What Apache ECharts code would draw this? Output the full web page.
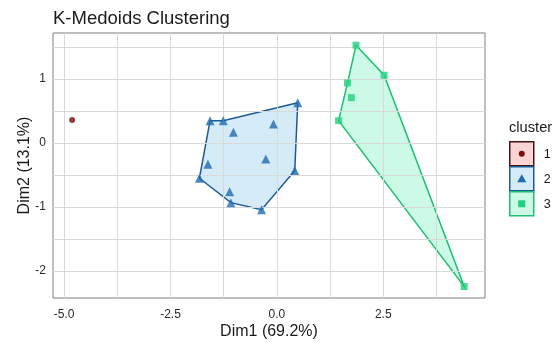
<!DOCTYPE html>
<html><head><meta charset="utf-8">
<script src="https://cdn.jsdelivr.net/npm/echarts@6/dist/echarts.min.js"></script>
<style>html,body{margin:0;padding:0;background:#fff}#c{width:560px;height:342px}</style>
</head><body><div id="c"></div>
<script>
const clusterNames = ['1', '2', '3'];
const c1x = [-4.81];
const c1y = [0.36];
const c2x = [-1.57, -1.26, 0.49, -1.02, -0.08, -1.62, -0.26, -1.82, 0.42, -1.11, -1.08, -0.36];
const c2y = [0.35, 0.35, 0.63, 0.17, 0.30, -0.33, -0.25, -0.55, -0.43, -0.76, -0.93, -1.04];
const c3x = [1.86, 2.52, 1.66, 1.75, 1.45, 4.40];
const c3y = [1.53, 1.06, 0.94, 0.71, 0.35, -2.24];
const c2Hull = [0, 1, 2, 8, 11, 10, 7];
const c3Hull = [0, 1, 5, 4, 2];
const xMajor = [-5, -2.5, 0, 2.5];
const xMinor = [-3.75, -1.25, 1.25, 3.75];
const yMajor = [-2, -1, 0, 1];
const yMinor = [-1.5, -0.5, 0.5, 1.5];

const FONT = 'Liberation Sans, Arial, sans-serif';
const colors = ['#7a0c0c', '#1f6cae', '#1fd17c'];
const lineColors = ['#4a1414', '#1b5a98', '#1cc06f'];
const fills = ['rgba(240,160,160,0.45)', 'rgba(150,205,238,0.40)', 'rgba(100,240,180,0.32)'];

const pts = (xs, ys) => xs.map((x, i) => [x, ys[i]]);
const P1 = pts(c1x, c1y), P2 = pts(c2x, c2y), P3 = pts(c3x, c3y);

function hullSeries(P, idx, k) {
  return {
    type: 'custom', z: 2, silent: true, clip: true,
    data: [0],
    renderItem: (params, api) => ({
      type: 'polygon',
      shape: { points: idx.map(i => api.coord(P[i])) },
      style: { fill: fills[k], stroke: lineColors[k], lineWidth: 1.5 }
    })
  };
}

const gridLines = [];
xMajor.concat(xMinor).forEach(v => gridLines.push({ xAxis: v }));
yMajor.concat(yMinor).forEach(v => gridLines.push({ yAxis: v }));

const chart = echarts.init(document.getElementById('c'), null, { renderer: 'canvas' });
chart.setOption({
  animation: false,
  backgroundColor: '#fff',
  textStyle: { fontFamily: FONT },
  title: {
    text: 'K-Medoids Clustering', left: 48, top: 4,
    textStyle: { fontFamily: FONT, fontSize: 18.5, fontWeight: 'normal', color: '#1a1a1a' }
  },
  grid: { left: 53, top: 33, right: 75, bottom: 44, containLabel: false, outerBoundsMode: 'none', show: true, borderColor: '#7f7f7f', borderWidth: 1, backgroundColor: 'transparent' },
  xAxis: {
    type: 'value', min: -5.26, max: 4.89,
    name: 'Dim1 (69.2%)', nameLocation: 'middle', nameGap: 26, nameMoveOverlap: false,
    nameTextStyle: { fontFamily: FONT, fontSize: 16, color: '#1a1a1a' },
    axisLine: { show: false },
    axisTick: { show: true, customValues: xMajor, length: 4, lineStyle: { color: '#555' } },
    axisLabel: { customValues: xMajor, formatter: v => v.toFixed(1), fontFamily: FONT, fontSize: 12, color: '#2a2a2a', margin: 11 },
    splitLine: { show: false }
  },
  yAxis: {
    type: 'value', min: -2.42, max: 1.72,
    name: 'Dim2 (13.1%)', nameLocation: 'middle', nameGap: 20, nameMoveOverlap: false,
    nameTextStyle: { fontFamily: FONT, fontSize: 16, color: '#1a1a1a' },
    axisLine: { show: false },
    axisTick: { show: true, customValues: yMajor, length: 4, lineStyle: { color: '#555' } },
    axisLabel: { customValues: yMajor, formatter: v => String(v), fontFamily: FONT, fontSize: 12, color: '#2a2a2a', margin: 7 },
    splitLine: { show: false }
  },
  series: [
    {
      type: 'scatter', data: [], z: 0, silent: true,
      markLine: {
        silent: true, symbol: 'none', label: { show: false },
        lineStyle: { color: '#d9d9d9', width: 1, type: 'solid' },
        data: gridLines
      }
    },
    hullSeries(P2, c2Hull, 1),
    hullSeries(P3, c3Hull, 2),
    { name: clusterNames[0], type: 'scatter', z: 5, symbol: 'circle', symbolSize: 6, itemStyle: { color: colors[0] }, data: P1 },
    { name: clusterNames[1], type: 'scatter', z: 5, symbol: 'triangle', symbolSize: 9, itemStyle: { color: colors[1] }, data: P2 },
    { name: clusterNames[2], type: 'scatter', z: 5, symbol: 'rect', symbolSize: 7, itemStyle: { color: colors[2] }, data: P3 }
  ],
  graphic: [
    { type: 'text', left: 509, top: 120, style: { text: 'cluster', font: '14.7px ' + FONT, fill: '#1a1a1a' } },
    ...clusterNames.map((n, k) => ({
      type: 'group', left: 509, top: 141 + k * 25,
      children: [
        { type: 'rect', shape: { x: 0, y: 0, width: 24, height: 24 }, style: { fill: fills[k], stroke: lineColors[k], lineWidth: 1.5 } },
        k === 0 ? { type: 'circle', shape: { cx: 12, cy: 12, r: 3 }, style: { fill: colors[0] } }
        : k === 1 ? { type: 'polygon', shape: { points: [[12, 7.5], [16.5, 15.5], [7.5, 15.5]] }, style: { fill: colors[1] } }
        : { type: 'rect', shape: { x: 8.5, y: 8.5, width: 7, height: 7 }, style: { fill: colors[2] } },
        { type: 'text', x: 34, y: 6, style: { text: n, font: '12.5px ' + FONT, fill: '#1a1a1a' } }
      ]
    }))
  ]
});
</script></body></html>
